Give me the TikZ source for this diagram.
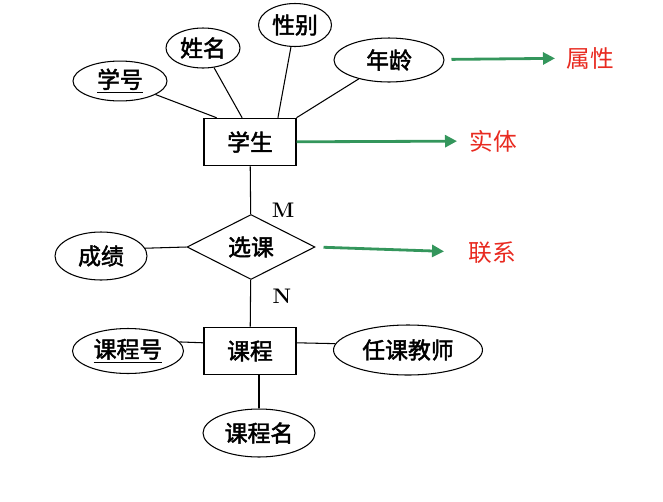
\documentclass[tikz,border=0pt]{standalone}
\usepackage{fontspec}
\newfontfamily\cjk{Noto Sans CJK SC}[FakeBold=2]
\newfontfamily\cjknote{Noto Sans CJK SC}
\usetikzlibrary{arrows.meta,shapes.geometric}
\definecolor{linkgreen}{RGB}{52,150,92}
\definecolor{notered}{RGB}{232,42,32}

\begin{document}
\begin{tikzpicture}[
    x=0.02cm, y=-0.02cm,
    entity/.style={rectangle, draw, line width=0.6pt, minimum width=1.84cm, minimum height=0.95cm, font=\cjk\fontsize{13}{13}\selectfont},
    attr/.style={ellipse, draw, line width=0.6pt, inner sep=1pt, font=\cjk\fontsize{13}{13}\selectfont},
    rel/.style={diamond, draw, line width=0.6pt, aspect=2, inner sep=1pt, minimum width=2.56cm, minimum height=1.3cm, font=\cjk\fontsize{13}{13}\selectfont},
    card/.style={font=\bfseries\fontsize{12}{12}\selectfont},
    note/.style={text=notered, inner sep=1pt, font=\cjknote\fontsize{13.5}{13.5}\selectfont},
    link/.style={draw=linkgreen, line width=1.6pt, -{Triangle[length=2.4mm,width=2.4mm]}},
    every path/.style={line width=0.6pt}
]
    \useasboundingbox (0,0) rectangle (663,501);

    % entities
    \node[entity] (student) at (250,142) {学生};
    \node[entity] (course) at (250,351) {课程};
    % relationship
    \node[rel] (select) at (251,247) {选课};

    % attributes
    \node[attr, minimum width=1.88cm, minimum height=0.76cm] (sno) at (120,81) {\underline{学号}};
    \node[attr, minimum width=1.48cm, minimum height=0.8cm] (sname) at (203,48) {姓名};
    \node[attr, minimum width=1.46cm, minimum height=0.86cm] (ssex) at (295,25) {性别};
    \node[attr, minimum width=2.2cm, minimum height=0.88cm] (sage) at (389,60) {年龄};
    \node[attr, minimum width=1.84cm, minimum height=0.96cm] (grade) at (101,256) {成绩};
    \node[attr, minimum width=2.22cm, minimum height=0.9cm] (cno) at (128,351) {\underline{课程号}};
    \node[attr, minimum width=2.98cm, minimum height=1.0cm] (teacher) at (408,350) {任课教师};
    \node[attr, minimum width=2.24cm, minimum height=0.96cm] (cname) at (259,433) {课程名};

    % cardinality
    \node[card] (m) at (283,210) {M};
    \node[card] (n) at (282,296) {N};

    % notes
    \node[note] (attrnote) at (590,58) {属性};
    \node[note] (entnote) at (493,141) {实体};
    \node[note] (relnote) at (492,253) {联系};

    \draw (sno) -- (student.144);
    \draw (sname) -- (student.108);
    \draw (ssex) -- (student.41);
    \draw (sage) -- (student.north east);
    \draw (student) -- (select);
    \draw (grade.10) -- (select.west);
    \draw (select) -- (course);
    \draw (cno.10) -- (course.170);
    \draw (course.10) -- (teacher.175);
    \draw (cname) -- (cname |- course.south);

    \draw[link, shorten <=0.14cm, shorten >=0.18cm] (sage) -- (attrnote);
    \draw[link, shorten >=0.2cm] (student) -- (entnote);
    \draw[link, shorten <=0.16cm, shorten >=0.44cm] (select.east) -- (relnote);
\end{tikzpicture}
\end{document}
